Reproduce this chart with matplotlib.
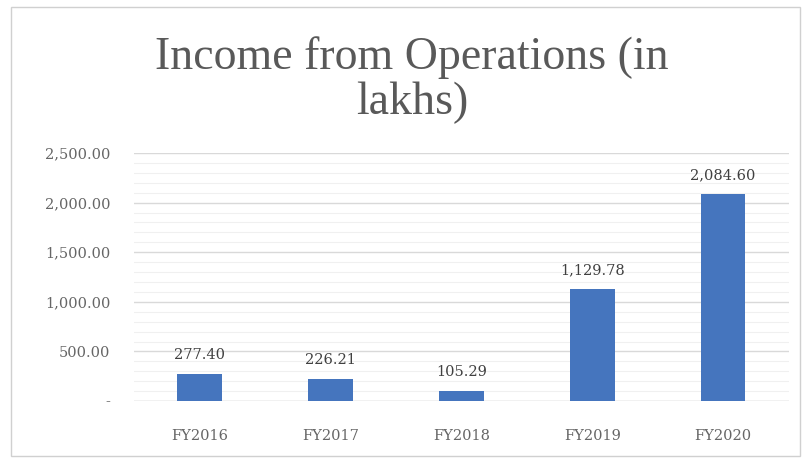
import matplotlib.pyplot as plt
from matplotlib.patches import Rectangle
from matplotlib.ticker import MultipleLocator, FuncFormatter

years = ['FY2016', 'FY2017', 'FY2018', 'FY2019', 'FY2020']
income = [277.40, 226.21, 105.29, 1129.78, 2084.60]

fig = plt.figure(figsize=(8.08, 4.61), dpi=100)
ax = fig.add_axes([0.166, 0.130, 0.810, 0.538])

x = range(len(years))
bars = ax.bar(x, income, width=0.34, color='#4575BE', zorder=3)

ax.set_xlim(-0.5, len(years) - 0.5)
ax.set_ylim(0, 2500)
ax.yaxis.set_major_locator(MultipleLocator(500))
ax.yaxis.set_minor_locator(MultipleLocator(100))

def fmt(v, pos):
    if v == 0:
        return '-'
    return '{:,.2f}'.format(v)

ax.yaxis.set_major_formatter(FuncFormatter(fmt))
ax.grid(axis='y', which='major', color='#d9d9d9', linewidth=1, zorder=0)
ax.grid(axis='y', which='minor', color='#f0f0f0', linewidth=0.8, zorder=0)

ax.set_xticks(list(x))
ax.set_xticklabels(years)
ax.tick_params(axis='both', which='both', length=0, colors='#666666')
ax.tick_params(axis='x', pad=20)
ax.tick_params(axis='y', pad=17)
for lab in ax.get_xticklabels() + ax.get_yticklabels():
    lab.set_family('DejaVu Serif')
    lab.set_fontsize(10.5)

for s in ax.spines.values():
    s.set_visible(False)
ax.axhline(0, color='#d9d9d9', linewidth=1, zorder=2)

for xi, v in zip(x, income):
    ax.text(xi, v + 120, '{:,.2f}'.format(v), ha='center', va='bottom',
            fontsize=10.5, color='#404040', family='DejaVu Serif')

fig.text(0.51, 0.85, 'Income from Operations (in', ha='center', va='baseline',
         fontsize=33, color='#595959', family='Liberation Serif')
fig.text(0.51, 0.752, 'lakhs)', ha='center', va='baseline',
         fontsize=33, color='#595959', family='Liberation Serif')

fig.patches.append(Rectangle((0.014, 0.01), 0.976, 0.975, transform=fig.transFigure,
                             fill=False, edgecolor='#d0d0d0', linewidth=1))

fig.savefig('out.png', dpi=100)
